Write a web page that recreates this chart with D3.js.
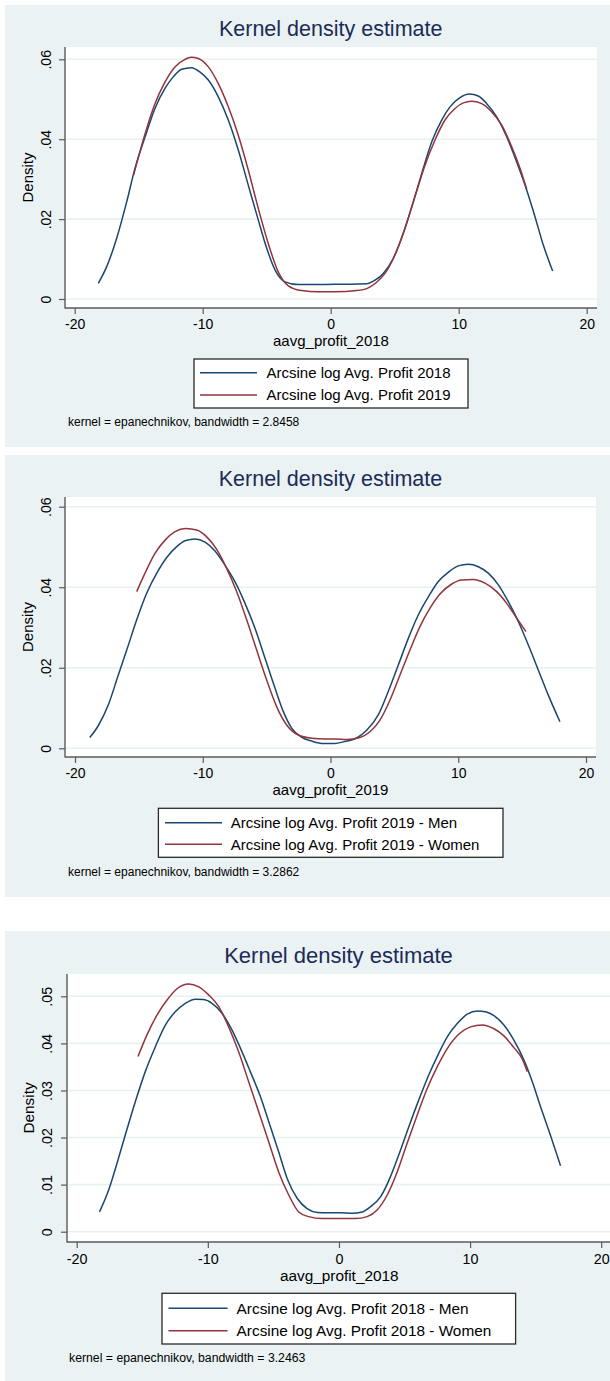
<!DOCTYPE html>
<html>
<head>
<meta charset="utf-8">
<script src="https://cdn.jsdelivr.net/npm/d3@7"></script>
<style>
  html, body { margin: 0; padding: 0; background: #ffffff; }
  svg { display: block; }
  text { font-family: "Liberation Sans", Arial, Helvetica, sans-serif; }
</style>
</head>
<body>
<svg id="chart" width="610" height="1381"></svg>
<script>
// ---------------- DATA ----------------
const chartTitle = "Kernel density estimate";
const xTickValues = [-20, -10, 0, 10, 20];
const yTicksA = [0, 0.02, 0.04, 0.06];
const yTicksB = [0, 0.01, 0.02, 0.03, 0.04, 0.05];

// Panel 1: 2018 vs 2019
const p1Labels = ["Arcsine log Avg. Profit 2018", "Arcsine log Avg. Profit 2019"];
const p1XTitle = "aavg_profit_2018";
const p1Note = "kernel = epanechnikov, bandwidth = 2.8458";
const p1BlueX = [-18.16,-17.5,-16.72,-15.94,-15.29,-14.5,-13.73,-12.95,-12.3,-11.64,-10.9,-10.2,-9.56,-8.78,-8.0,-7.22,-6.44,-5.66,-5.0,-4.35,-3.57,-2.53,-1.23,0.34,1.51,2.81,3.46,4.11,4.89,5.67,6.45,7.23,7.89,8.67,9.32,10.1,10.83,11.53,12.19,12.97,13.75,14.53,15.31,15.96,16.61,17.34];
const p1BlueY = [0.0039,0.0081,0.0152,0.0243,0.0327,0.0406,0.0477,0.0527,0.0556,0.0575,0.0579,0.0568,0.0548,0.0506,0.0448,0.0373,0.0285,0.0198,0.0127,0.0073,0.0043,0.0036,0.0036,0.0037,0.0037,0.0038,0.0047,0.0064,0.0102,0.0164,0.0243,0.0327,0.0393,0.0448,0.0481,0.0504,0.0513,0.0508,0.0489,0.0456,0.0406,0.0343,0.0273,0.0206,0.0135,0.007];
const p1RedX = [-15.4,-14.5,-13.73,-12.95,-12.17,-11.38,-10.9,-10.34,-9.56,-8.78,-8.0,-7.22,-6.44,-5.66,-4.88,-4.1,-3.31,-2.27,-0.97,0.34,2.03,2.94,3.59,4.24,5.02,5.8,6.58,7.37,8.15,8.93,9.71,10.36,11.0,11.8,12.58,13.36,14.14,14.79,15.31];
const p1RedY = [0.031,0.0414,0.0489,0.0543,0.0581,0.060,0.0605,0.0602,0.0581,0.0539,0.0481,0.041,0.0323,0.0227,0.0139,0.0068,0.0033,0.0021,0.0018,0.0018,0.0021,0.0028,0.0042,0.0064,0.011,0.0177,0.0256,0.0335,0.0398,0.0448,0.0477,0.0491,0.0495,0.0489,0.0468,0.0435,0.0381,0.0327,0.0275];

// Panel 2: 2019 Men vs Women
const p2Labels = ["Arcsine log Avg. Profit 2019 - Men", "Arcsine log Avg. Profit 2019 - Women"];
const p2XTitle = "aavg_profit_2019";
const p2Note = "kernel = epanechnikov, bandwidth = 3.2862";
const p2BlueX = [-18.84,-18.18,-17.39,-16.61,-15.95,-15.17,-14.39,-13.6,-12.82,-12.04,-11.33,-10.6,-9.82,-9.04,-8.26,-7.48,-6.69,-5.91,-5.13,-4.34,-3.69,-3.04,-2.25,-1.47,-0.56,0.35,1.0,2.05,2.83,3.74,4.52,5.31,6.09,6.87,7.66,8.44,9.22,10.0,10.79,11.57,12.35,13.14,13.92,14.7,15.48,16.27,17.05,17.96];
const p2BlueY = [0.0027,0.0056,0.0108,0.0182,0.0244,0.0319,0.0385,0.0435,0.0474,0.0501,0.0516,0.052,0.0512,0.049,0.0455,0.0414,0.036,0.0298,0.0224,0.0149,0.0091,0.005,0.0027,0.0018,0.0012,0.0012,0.0016,0.0026,0.0045,0.0083,0.0141,0.0207,0.0273,0.0331,0.0376,0.0414,0.0437,0.0453,0.0457,0.0451,0.0435,0.0406,0.0364,0.0315,0.0257,0.0194,0.0132,0.0066];
const p2RedX = [-15.17,-14.52,-13.74,-12.95,-12.17,-11.33,-10.47,-9.69,-8.91,-8.13,-7.34,-6.56,-5.78,-5.0,-4.21,-3.43,-2.52,-1.47,-0.43,0.35,1.27,2.31,3.09,3.87,4.66,5.44,6.22,7.0,7.79,8.57,9.49,10.27,11.18,12.09,13.01,13.79,14.58,15.3];
const p2RedY = [0.0389,0.0435,0.0484,0.0517,0.0538,0.0546,0.0542,0.0525,0.0494,0.0447,0.0389,0.0319,0.0244,0.017,0.0103,0.0058,0.0033,0.0025,0.0023,0.0023,0.0022,0.0027,0.0041,0.007,0.012,0.0182,0.0244,0.0302,0.0348,0.0383,0.0408,0.0418,0.0419,0.041,0.0389,0.036,0.0323,0.029];

// Panel 3: 2018 Men vs Women
const p3Labels = ["Arcsine log Avg. Profit 2018 - Men", "Arcsine log Avg. Profit 2018 - Women"];
const p3XTitle = "aavg_profit_2018";
const p3Note = "kernel = epanechnikov, bandwidth = 3.2463";
const p3BlueX = [-18.26,-17.57,-16.93,-16.3,-15.53,-14.77,-14.0,-13.24,-12.48,-11.72,-10.95,-10.31,-9.68,-8.92,-8.15,-7.39,-6.76,-5.99,-5.36,-4.6,-3.95,-3.19,-2.43,-1.66,-0.78,0.11,1.01,1.77,2.4,3.17,3.93,4.56,5.33,6.09,6.85,7.49,8.26,9.02,9.79,10.55,11.18,11.82,12.58,13.34,14.1,14.74,15.37,16.13,16.9];
const p3BlueY = [0.0042,0.0088,0.0145,0.0205,0.0276,0.034,0.0393,0.0439,0.0467,0.0485,0.0494,0.0493,0.0485,0.0464,0.0428,0.0382,0.034,0.0287,0.0234,0.017,0.0113,0.0071,0.0049,0.0041,0.004,0.004,0.0039,0.0042,0.0053,0.0074,0.0117,0.0163,0.0223,0.028,0.0333,0.0372,0.0414,0.0442,0.0462,0.0469,0.0467,0.0459,0.0439,0.0407,0.0365,0.0319,0.0266,0.0205,0.014];
const p3RedX = [-15.33,-14.64,-13.88,-13.11,-12.35,-11.46,-10.7,-9.94,-9.17,-8.41,-7.65,-6.89,-6.12,-5.36,-4.6,-3.83,-3.07,-2.31,-1.28,0.11,1.26,2.15,2.91,3.68,4.44,5.2,5.97,6.73,7.49,8.26,9.15,10.04,10.93,11.82,12.58,13.34,13.98,14.36];
const p3RedY = [0.0372,0.0418,0.046,0.0492,0.0516,0.0526,0.052,0.0503,0.0478,0.0435,0.0382,0.0319,0.0255,0.0191,0.0127,0.0078,0.0042,0.0032,0.0028,0.0028,0.0028,0.0032,0.0046,0.0078,0.0127,0.0188,0.0248,0.0304,0.035,0.0389,0.042,0.0435,0.0439,0.0431,0.0416,0.0391,0.0367,0.034];

// ---------------- STYLE ----------------
const BG = "#eaf2f3";
const GRID = "#e8f0f1";
const AXIS = "#5a5a5a";
const BLUE = "#1a476f";
const RED = "#90353b";
const TITLE_COLOR = "#1c2b58";

const svg = d3.select("#chart");
const yFmt = v => v === 0 ? "0" : d3.format(".2f")(v).replace(/^0/, "");
const xFmt = v => String(v);

function drawPanel(cfg) {
  const s = cfg.fs;
  const g = svg.append("g");

  g.append("rect").attr("x", cfg.bg[0]).attr("y", cfg.bg[1])
    .attr("width", cfg.bg[2]).attr("height", cfg.bg[3]).attr("fill", BG);

  g.append("text").attr("x", cfg.titleX).attr("y", cfg.titleY)
    .attr("text-anchor", "middle").attr("font-size", 21.5 * s)
    .attr("fill", TITLE_COLOR).text(chartTitle);

  const P = cfg.plot;
  g.append("rect").attr("x", P.x0).attr("y", P.y0)
    .attr("width", P.x1 - P.x0).attr("height", P.y1 - P.y0).attr("fill", "#ffffff");

  const x = d3.scaleLinear().domain([-20, 20]).range(cfg.xRange);
  const y = d3.scaleLinear().domain(cfg.yDomain).range(cfg.yRange);

  g.append("g").selectAll("line").data(cfg.yTicks).join("line")
    .attr("x1", P.x0 + 1).attr("x2", P.x1)
    .attr("y1", d => y(d)).attr("y2", d => y(d))
    .attr("stroke", GRID).attr("stroke-width", 1.6);

  const line = d3.line().x(d => x(d[0])).y(d => y(d[1])).curve(d3.curveMonotoneX);
  const series = [
    { xs: cfg.blueX, ys: cfg.blueY, color: BLUE },
    { xs: cfg.redX, ys: cfg.redY, color: RED }
  ];
  series.forEach(sr => {
    const pts = sr.xs.map((v, i) => [v, sr.ys[i]]);
    g.append("path").datum(pts).attr("d", line)
      .attr("fill", "none").attr("stroke", sr.color)
      .attr("stroke-width", 1.5).attr("stroke-linejoin", "round");
  });

  const yAxis = d3.axisLeft(y).tickValues(cfg.yTicks).tickFormat(yFmt)
    .tickSize(6).tickSizeOuter(0);
  const ya = g.append("g").attr("transform", `translate(${P.x0},0)`).call(yAxis);
  ya.select(".domain").remove();
  ya.selectAll(".tick line").attr("stroke", AXIS).attr("stroke-width", 1.2);
  ya.selectAll(".tick text")
    .attr("x", null).attr("dy", null)
    .attr("transform", "rotate(-90)")
    .attr("y", -cfg.yLabOff)
    .attr("text-anchor", "middle")
    .attr("font-size", 14 * s)
    .attr("font-family", '"Liberation Sans", Arial, sans-serif')
    .attr("fill", "#000");
  g.append("line").attr("x1", P.x0).attr("x2", P.x0).attr("y1", P.y0).attr("y2", P.y1 + 0.6)
    .attr("stroke", AXIS).attr("stroke-width", 1.4);

  const xAxis = d3.axisBottom(x).tickValues(xTickValues).tickFormat(xFmt)
    .tickSize(6).tickSizeOuter(0);
  const xa = g.append("g").attr("transform", `translate(0,${P.y1})`).call(xAxis);
  xa.select(".domain").remove();
  xa.selectAll(".tick line").attr("stroke", AXIS).attr("stroke-width", 1.2);
  xa.selectAll(".tick text")
    .attr("y", cfg.xLabOff).attr("dy", null)
    .attr("font-size", 14 * s)
    .attr("font-family", '"Liberation Sans", Arial, sans-serif')
    .attr("fill", "#000");
  g.append("line").attr("x1", P.x0).attr("x2", P.x1).attr("y1", P.y1).attr("y2", P.y1)
    .attr("stroke", AXIS).attr("stroke-width", 1.4);

  g.append("text")
    .attr("transform", `translate(${P.x0 - cfg.densOff},${(P.y0 + P.y1) / 2}) rotate(-90)`)
    .attr("text-anchor", "middle").attr("font-size", 15 * s).attr("fill", "#000")
    .text("Density");
  g.append("text").attr("x", (P.x0 + Math.min(P.x1, cfg.xRange[1] + 10.3)) / 2)
    .attr("y", P.y1 + cfg.xTitleOff)
    .attr("text-anchor", "middle").attr("font-size", 15 * s).attr("fill", "#000")
    .text(cfg.xTitle);

  const L = cfg.legend;
  g.append("rect").attr("x", L.x).attr("y", L.y).attr("width", L.w).attr("height", L.h)
    .attr("fill", "#ffffff").attr("stroke", "#2a2a2a").attr("stroke-width", 1.3);
  [BLUE, RED].forEach((c, i) => {
    const ry = L.rows[i];
    g.append("line").attr("x1", L.s0).attr("x2", L.s1).attr("y1", ry).attr("y2", ry)
      .attr("stroke", c).attr("stroke-width", 1.5);
    g.append("text").attr("x", L.tx).attr("y", ry + 5.4 * s)
      .attr("font-size", 15 * s).attr("fill", "#000").text(cfg.labels[i]);
  });

  g.append("text").attr("x", cfg.note[0]).attr("y", cfg.note[1])
    .attr("font-size", 12 * s).attr("fill", "#000").text(cfg.noteText);
}

drawPanel({
  fs: 1,
  bg: [5, 5, 605, 442],
  titleX: 330.7, titleY: 35.5,
  plot: { x0: 65, x1: 597, y0: 47, y1: 308 },
  xRange: [74.7, 586.7], yRange: [299, 59.3], yDomain: [0, 0.06], yTicks: yTicksA,
  yLabOff: 14, densOff: 32.5, xLabOff: 21.3, xTitleOff: 38,
  xTitle: p1XTitle,
  legend: { x: 194, y: 359, w: 274, h: 49, rows: [372.7, 395], s0: 200, s1: 257, tx: 266.5 },
  labels: p1Labels,
  note: [68, 426], noteText: p1Note,
  blueX: p1BlueX, blueY: p1BlueY, redX: p1RedX, redY: p1RedY
});

drawPanel({
  fs: 1,
  bg: [5, 455, 605, 442],
  titleX: 330.5, titleY: 485.7,
  plot: { x0: 65, x1: 596, y0: 497, y1: 757 },
  xRange: [75, 586], yRange: [748.3, 506.7], yDomain: [0, 0.06], yTicks: yTicksA,
  yLabOff: 14, densOff: 32.5, xLabOff: 21.3, xTitleOff: 38,
  xTitle: p2XTitle,
  legend: { x: 158.4, y: 808.3, w: 344.6, h: 49, rows: [822.7, 844.3], s0: 165, s1: 222, tx: 230.7 },
  labels: p2Labels,
  note: [68, 876], noteText: p2Note,
  blueX: p2BlueX, blueY: p2BlueY, redX: p2RedX, redY: p2RedY
});

drawPanel({
  fs: 1.024,
  bg: [5, 931, 605, 450],
  titleX: 338.5, titleY: 962.7,
  plot: { x0: 67, x1: 612, y0: 974, y1: 1242 },
  xRange: [76.7, 601.2], yRange: [1231.7, 996.3], yDomain: [0, 0.05], yTicks: yTicksB,
  yLabOff: 15, densOff: 33.5, xLabOff: 21.5, xTitleOff: 39,
  xTitle: p3XTitle,
  legend: { x: 162, y: 1293.3, w: 353.6, h: 50.7, rows: [1308.3, 1330.7], s0: 168.5, s1: 227.6, tx: 236.6 },
  labels: p3Labels,
  note: [69, 1361.7], noteText: p3Note,
  blueX: p3BlueX, blueY: p3BlueY, redX: p3RedX, redY: p3RedY
});
</script>
</body>
</html>
